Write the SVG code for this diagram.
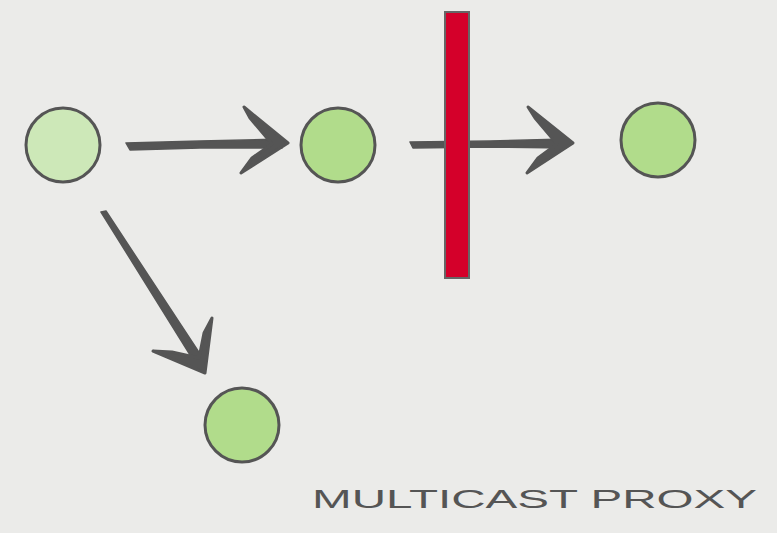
<svg xmlns="http://www.w3.org/2000/svg" width="777" height="533" viewBox="0 0 777 533">
<style>
.node{stroke:#555;stroke-width:3}
.n1{fill:#cde8b8}
.n2{fill:#b1dc8b}
.shaft{fill:#555;stroke:#555;stroke-width:1.5;stroke-linejoin:round}
.head{fill:#555;stroke:#555;stroke-width:3;stroke-linejoin:round}
.bar{fill:#d4002a;stroke:#666;stroke-width:2}
.label{font-family:"Liberation Sans",Arial,sans-serif;font-size:26px;fill:#555}
</style>
<rect width="777" height="533" fill="#ebebe9"/>
<g id="connectors">
  <g id="e1">
    <path class="shaft" d="M126,143 L200,141 L282,139 L282,148 L200,148 L130,150 Z"/>
    <path class="head" d="M244,107 L288,143 L241,173 L252,158 L272,144 L250,118 Z"/>
  </g>
  <g id="e2">
    <path class="shaft" d="M410,142 L490,141 L566,139 L566,148 L490,147 L413,148 Z"/>
    <path class="head" d="M528,107 L573,143 L527,173 L538,158 L557,144 L535,118 Z"/>
  </g>
  <g id="e3">
    <path class="shaft" d="M101,212 L106,211 L204,360 L197,366 Z"/>
    <path class="head" d="M212,318 L205,373 L153,351 L172,352 L199,358 L204,333 Z"/>
  </g>
</g>
<g id="firewall">
  <rect class="bar" x="445" y="12" width="24" height="266"/>
</g>
<g id="node1"><circle class="node n1" cx="63" cy="145" r="37"/></g>
<g id="node2"><circle class="node n2" cx="338" cy="145" r="37"/></g>
<g id="node3"><circle class="node n2" cx="658" cy="140" r="37"/></g>
<g id="node4"><circle class="node n2" cx="242" cy="425" r="37"/></g>
<text class="label" x="312" y="508" textLength="445" lengthAdjust="spacingAndGlyphs">MULTICAST PROXY</text>
</svg>
